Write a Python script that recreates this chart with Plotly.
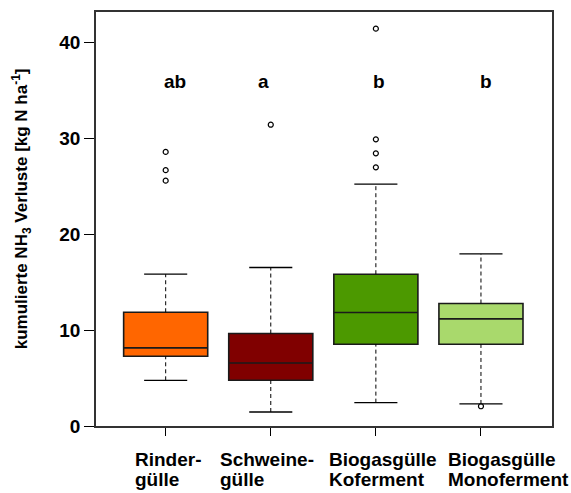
import plotly.graph_objects as go

# ---- data ----
positions = [1, 2, 3, 4]
label_line1 = ["Rinder-", "Schweine-", "Biogasgülle", "Biogasgülle"]
label_line2 = ["gülle", "gülle", "Koferment", "Monoferment"]
label_left = [0.69, 1.50, 2.535, 3.665]
q1 = [7.28, 4.77, 8.53, 8.53]
median = [8.15, 6.58, 11.84, 11.18]
q3 = [11.87, 9.65, 15.84, 12.78]
lower_whisker = [4.77, 1.46, 2.44, 2.30]
upper_whisker = [15.84, 16.54, 25.24, 17.96]
outliers = [[28.6, 26.7, 25.6], [31.44], [41.46, 29.91, 28.45, 26.99], [2.06]]
letters = ["ab", "a", "b", "b"]
letter_x = [1.09, 1.93, 3.03, 4.05]
letter_y = 36
colors = ["#FF6600", "#800000", "#4C9900", "#A9D96C"]
y_ticks = [0, 10, 20, 30, 40]

FONT = "Liberation Sans"
fig = go.Figure()

for i, p in enumerate(positions):
    fig.add_trace(go.Box(
        x=[p], q1=[q1[i]], median=[median[i]], q3=[q3[i]],
        lowerfence=[q1[i]], upperfence=[q3[i]],
        width=0.8, whiskerwidth=0, fillcolor=colors[i],
        line=dict(color="#1a1a1a", width=1.6), boxpoints=False,
        hoverinfo="skip", showlegend=False))
    # dashed whiskers
    for a, b in [(q3[i], upper_whisker[i]), (lower_whisker[i], q1[i])]:
        fig.add_trace(go.Scatter(
            x=[p, p], y=[a, b], mode="lines",
            line=dict(color="black", width=1, dash="4px,3px"),
            hoverinfo="skip", showlegend=False))
    # caps
    for w in [upper_whisker[i], lower_whisker[i]]:
        fig.add_trace(go.Scatter(
            x=[p - 0.205, p + 0.205], y=[w, w], mode="lines",
            line=dict(color="black", width=1.3),
            hoverinfo="skip", showlegend=False))
    # outliers
    fig.add_trace(go.Scatter(
        x=[p] * len(outliers[i]), y=outliers[i], mode="markers",
        marker=dict(symbol="circle-open", size=5, color="black",
                    line=dict(width=1.2, color="black")),
        hoverinfo="skip", showlegend=False))

annotations = []
for i in range(4):
    annotations.append(dict(x=letter_x[i], y=letter_y, xref="x", yref="y",
                            text=letters[i], showarrow=False,
                            font=dict(family=FONT, size=19, color="black", weight="bold")))
    annotations.append(dict(x=label_left[i], y=-0.082, xref="x", yref="paper",
                            text=label_line1[i], showarrow=False, xanchor="left",
                            yanchor="middle",
                            font=dict(family=FONT, size=19, color="black", weight="bold")))
    annotations.append(dict(x=label_left[i], y=-0.13, xref="x", yref="paper",
                            text=label_line2[i], showarrow=False, xanchor="left",
                            yanchor="middle",
                            font=dict(family=FONT, size=19, color="black", weight="bold")))

annotations.append(dict(x=-0.163, y=0.525, xref="paper", yref="paper",
                        text="kumulierte NH<sub>3</sub> Verluste [kg N ha<sup>-1</sup>]",
                        textangle=-90, showarrow=False, xanchor="center", yanchor="middle",
                        font=dict(family=FONT, size=17, color="black", weight="bold")))

fig.update_layout(
    width=571, height=493,
    margin=dict(l=96, r=19, t=12, b=67),
    paper_bgcolor="white", plot_bgcolor="white",
    annotations=annotations,
    xaxis=dict(range=[0.337, 4.676], tickvals=positions, showticklabels=False,
               ticks="outside", ticklen=8, tickwidth=1, tickcolor="black",
               showgrid=False, zeroline=False, showline=True, linecolor="#333333",
               linewidth=1.5, mirror=True, automargin=False),
    yaxis=dict(range=[0, 43.2], tickvals=y_ticks, ticks="outside", ticklen=10,
               tickwidth=1, tickcolor="black",
               tickfont=dict(family=FONT, size=19, color="black", weight="bold"),
               showgrid=False, zeroline=False, showline=True, linecolor="#333333",
               linewidth=1.5, mirror=True, automargin=False),
)

fig.write_html("out.html", config={"displayModeBar": False},
               post_script="document.body.style.margin='0';document.body.style.overflow='hidden';")
